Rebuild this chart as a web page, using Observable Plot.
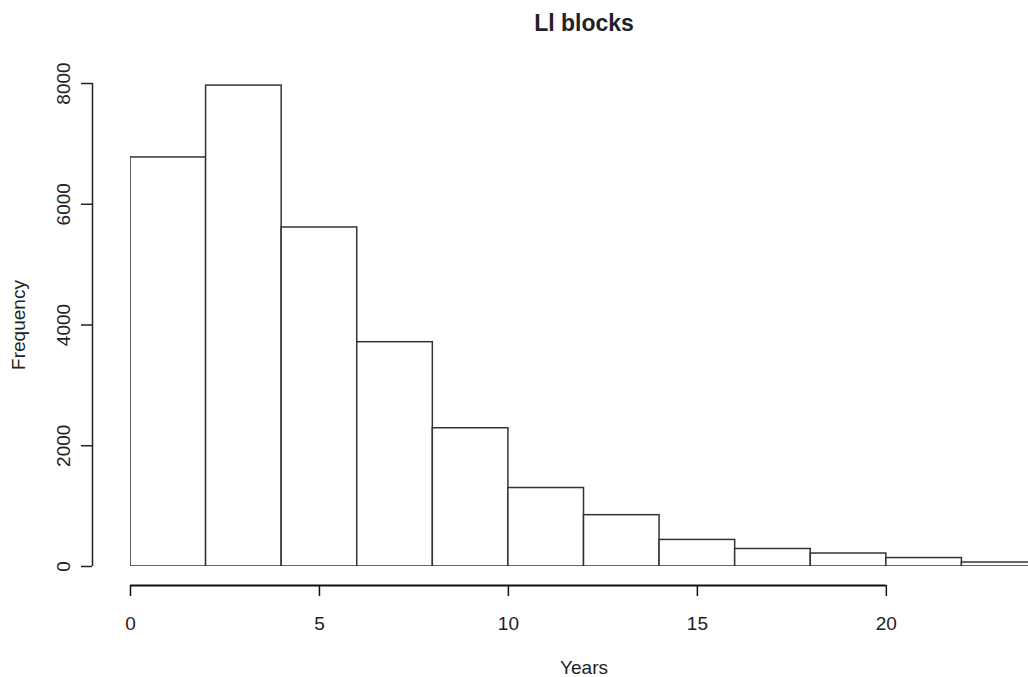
<!DOCTYPE html>
<html>
<head>
<meta charset="utf-8">
<script src="https://cdn.jsdelivr.net/npm/d3@7"></script>
<script src="https://cdn.jsdelivr.net/npm/@observablehq/plot@0.6"></script>
<style>
  html, body { margin: 0; padding: 0; background: #fff; overflow: hidden; }
  #chart svg { display: block; }
</style>
</head>
<body>
<div id="chart"></div>
<script>
// Histogram bins (years) and frequencies
const binStart = [0, 2, 4, 6, 8, 10, 12, 14, 16, 18, 20, 22];
const binEnd   = [2, 4, 6, 8, 10, 12, 14, 16, 18, 20, 22, 24];
const frequency = [6775, 7965, 5615, 3715, 2290, 1300, 850, 440, 290, 215, 140, 66];
const xTicks = [0, 5, 10, 15, 20];
const yTicks = [0, 2000, 4000, 6000, 8000];
const titleText = "Ll blocks";
const xLabel = "Years";
const yLabel = "Frequency";

const bins = binStart.map((s, i) => ({x1: s, x2: binEnd[i], y: frequency[i]}));
const xDomain = [0, 24];
const xMid = (xDomain[0] + xDomain[1]) / 2;
const yMid = (yTicks[0] + yTicks[yTicks.length - 1]) / 2;

const font = "'Liberation Sans', Arial, Helvetica, sans-serif";

const chart = Plot.plot({
  width: 1028,
  height: 677,
  marginTop: 83,
  marginBottom: 111,
  marginLeft: 130,
  marginRight: 0,
  style: {fontFamily: font, fontSize: "19px", color: "#222", background: "white"},
  x: {domain: xDomain, range: [130, 1037]},
  y: {domain: [0, 8000]},
  marks: [
    Plot.rectY(bins, {x1: "x1", x2: "x2", y: "y", fill: "white", stroke: "#333", strokeWidth: 1.5, clip: true}),
    // y axis
    Plot.ruleX([xDomain[0]], {y1: yTicks[0], y2: yTicks[yTicks.length - 1], dx: -38, stroke: "#222", strokeWidth: 1.5}),
    Plot.axisY({ticks: yTicks, tickSize: 11, dx: -38, tickFormat: () => "", label: null, stroke: "#222", strokeWidth: 1.5}),
    Plot.text(yTicks, {y: d => d, text: d => String(d), frameAnchor: "left", dx: -67, rotate: -90,
      textAnchor: "middle", lineAnchor: "middle", fontSize: 19, fill: "#222"}),
    // x axis
    Plot.ruleY([0], {x1: xTicks[0], x2: xTicks[xTicks.length - 1], dy: 19, stroke: "#111", strokeWidth: 1.8}),
    Plot.axisX({ticks: xTicks, tickSize: 11, tickPadding: 20, dy: 19, label: null,
      fontSize: 19, stroke: "#111", strokeWidth: 1.5, fill: "#222"}),
    // labels
    Plot.text([xLabel], {x: xMid, frameAnchor: "bottom", dy: 101, text: d => d,
      fontSize: 19, fill: "#222", lineAnchor: "middle"}),
    Plot.text([yLabel], {y: yMid, frameAnchor: "left", dx: -112, rotate: -90, text: d => d,
      fontSize: 19, fill: "#222", lineAnchor: "middle", textAnchor: "middle"}),
    Plot.text([titleText], {x: xMid, frameAnchor: "top", dy: -60, text: d => d,
      fontSize: 23, fontWeight: "bold", fill: "#222", lineAnchor: "middle"})
  ]
});
document.getElementById("chart").appendChild(chart);
</script>
</body>
</html>
